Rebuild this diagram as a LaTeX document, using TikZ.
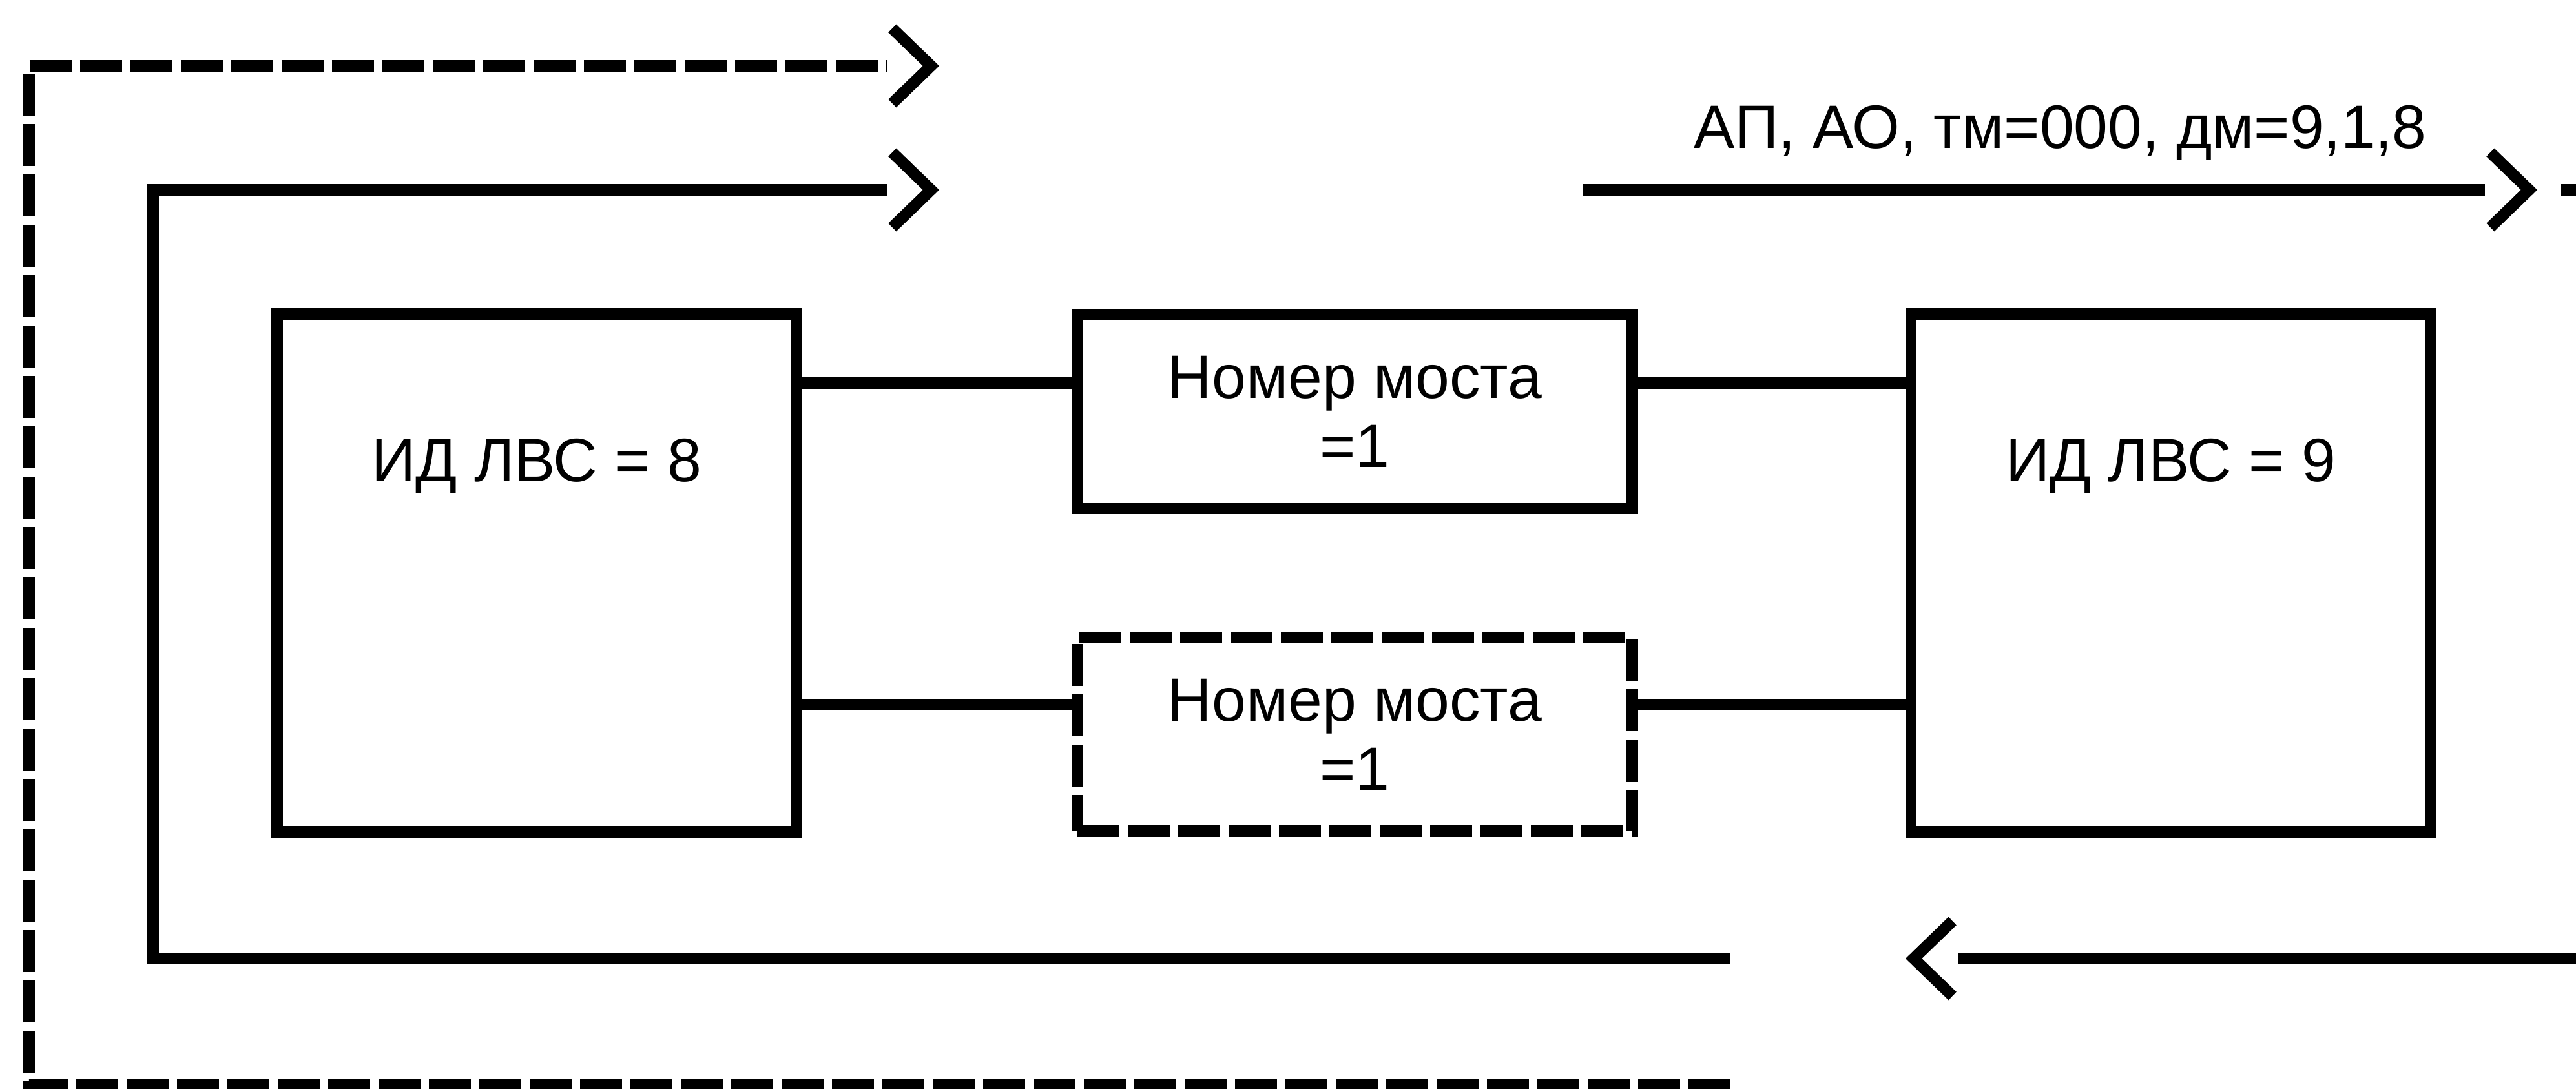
\documentclass[tikz,border=0pt]{standalone}
\usepackage{fontspec}
\setmainfont{Liberation Sans}
\usetikzlibrary{arrows.meta}
\newcommand{\diagfont}{\fontsize{27}{30.4}\selectfont}

\tikzset{
  lanbox/.style={draw,line width=5pt,minimum width=8.04cm,minimum height=8.02cm},
  bridgebox/.style={draw,line width=5pt,minimum width=8.59cm,minimum height=3cm,align=center},
  dashline/.style={dash pattern=on 6.5mm off 1.3mm},
  linkline/.style={line width=5pt},
  flow/.style={line width=5pt,-{. Straight Barb[length=6mm,width=11.6mm]}}
}

\begin{document}
\begin{tikzpicture}[font=\diagfont]
    \useasboundingbox (0,0) rectangle (39.88,16.85);

    % two LANs
    \node[lanbox] (lan8) at (8.31,7.98) {};
    \node[lanbox] (lan9) at (33.605,7.98) {};
    \node[anchor=base] (lan8txt) at (8.31,9.39) {ИД ЛВС = 8};
    \node[anchor=base] (lan9txt) at (33.605,9.39) {ИД ЛВС = 9};

    % bridges
    \node[bridgebox] (br1) at (20.975,10.48) {Номер моста\\=1};
    \node[bridgebox,dashline] (br2) at (20.975,5.48) {Номер моста\\=1};

    \draw[linkline] ([yshift=4.4mm]br1.west -| lan8.east) -- ([yshift=4.4mm]br1.west);
    \draw[linkline] ([yshift=4.4mm]br1.east) -- ([yshift=4.4mm]br1.east -| lan9.west);
    \draw[linkline] ([yshift=4.6mm]br2.west -| lan8.east) -- ([yshift=4.6mm]br2.west);
    \draw[linkline] ([yshift=4.6mm]br2.east) -- ([yshift=4.6mm]br2.east -| lan9.west);

    % frame paths
    \coordinate (loopA) at (26.79,0.06);
    \coordinate (loopAup) at (0.45,15.83);
    \coordinate (loopAend) at (14.54,15.83);
    \coordinate (loopB) at (26.79,2.01);
    \coordinate (loopBup) at (2.37,13.91);
    \coordinate (loopBend) at (14.54,13.91);
    \draw[flow,dashline] (loopA) -| (loopAup) -- (loopAend);
    \draw[flow] (loopB) -| (loopBup) -- (loopBend);

    % right side
    \coordinate (ackStart) at (24.51,13.91);
    \coordinate (ackEnd) at (39.28,13.91);
    \coordinate (tailA) at (39.65,13.91);
    \coordinate (tailB) at (39.95,13.91);
    \coordinate (retStart) at (39.95,2.01);
    \coordinate (retEnd) at (29.50,2.01);
    \draw[flow] (ackStart) -- node[anchor=base,yshift=6.4mm] (acklbl) {АП, АО, тм=000, дм=9,1,8} (ackEnd);
    \draw[linkline] (tailA) -- (tailB);
    \draw[flow] (retStart) -- (retEnd);
\end{tikzpicture}
\end{document}
